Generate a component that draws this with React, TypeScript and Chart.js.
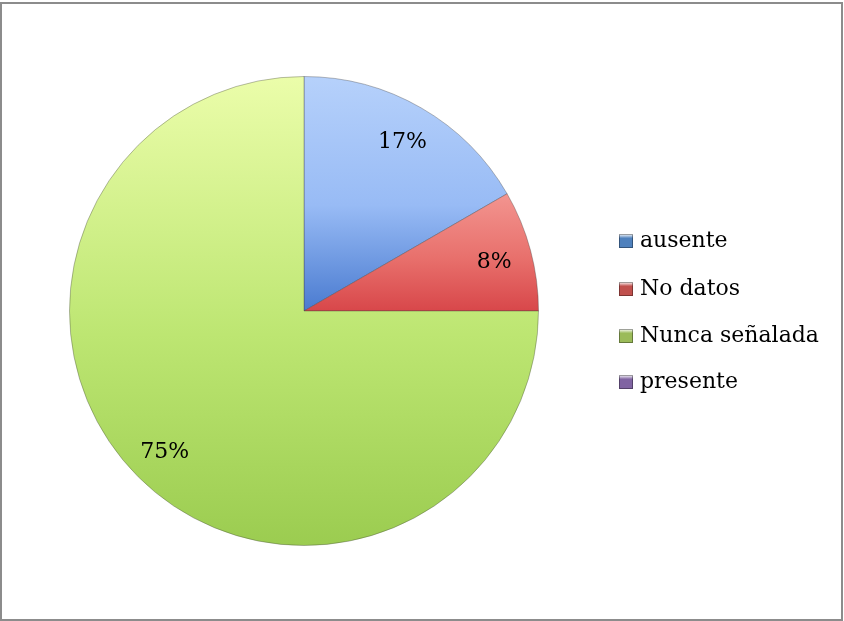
import React, { useEffect, useRef } from "react";
import { Chart, registerables } from "chart.js";

Chart.register(...registerables);

const categories = ["ausente", "No datos", "Nunca señalada", "presente"];
const values = [2, 1, 9, 0];
const percentLabels = ["17%", "8%", "75%", ""];
const legendColors = ["#4f81bd", "#c0504d", "#9bbb59", "#8064a2"];
const sliceStops: string[][] = [
  ["#b6d1fb", "#98bbf5", "#4a7bd0"],
  ["#f39590", "#e8706c", "#d8474a"],
  ["#ebfdaa", "#bde672", "#9bcc50"],
  ["#b9a6d6", "#9a82c0", "#7a5fa0"],
];

const FONT = '"DejaVu Serif", "Liberation Serif", serif';

function App() {
  const ref = useRef<HTMLCanvasElement | null>(null);

  useEffect(() => {
    if (!ref.current) return;

    const borderPlugin = {
      id: "frame",
      beforeDraw(chart: any) {
        const c = chart.ctx;
        c.save();
        c.fillStyle = "#ffffff";
        c.fillRect(0, 0, chart.width, chart.height);
        c.strokeStyle = "#8c8c8c";
        c.lineWidth = 2;
        c.strokeRect(1, 3, 841, 617);
        c.restore();
      },
    };

    const labelPlugin = {
      id: "labelsAndLegend",
      afterDraw(chart: any) {
        const c = chart.ctx;
        const meta = chart.getDatasetMeta(0);
        c.save();
        c.font = `22px ${FONT}`;
        c.fillStyle = "#000000";
        c.textAlign = "center";
        c.textBaseline = "middle";
        meta.data.forEach((arc: any, i: number) => {
          if (!percentLabels[i]) return;
          const p = arc.getProps(["x", "y", "startAngle", "endAngle", "outerRadius"], true);
          const mid = (p.startAngle + p.endAngle) / 2;
          const r = p.outerRadius * 0.84;
          c.fillText(percentLabels[i], p.x + Math.cos(mid) * r, p.y + Math.sin(mid) * r + 2);
        });
        // legend
        const lx = 619;
        const rows = [241, 289, 336, 382];
        c.textAlign = "left";
        categories.forEach((cat, i) => {
          const y = rows[i];
          const g = c.createLinearGradient(0, y - 7, 0, y + 7);
          g.addColorStop(0, "#ffffff");
          g.addColorStop(0.3, legendColors[i]);
          g.addColorStop(1, legendColors[i]);
          c.fillStyle = g;
          c.fillRect(lx, y - 7, 14, 14);
          c.strokeStyle = "rgba(0,0,0,0.35)";
          c.lineWidth = 1;
          c.strokeRect(lx + 0.5, y - 6.5, 13, 13);
          c.fillStyle = "#000000";
          c.fillText(cat, 640, y);
        });
        c.restore();
      },
    };

    const chart = new Chart(ref.current, {
      type: "pie",
      data: {
        labels: categories,
        datasets: [
          {
            data: values,
            backgroundColor: (ctx: any) => {
              const ch = ctx.chart;
              const area = ch.chartArea;
              const i = ctx.dataIndex;
              const stops = sliceStops[i];
              if (!area) return stops[1];
              const cy = (area.top + area.bottom) / 2;
              const r = (area.bottom - area.top) / 2;
              let y0 = area.top;
              let y1 = area.bottom;
              if (i === 0) { y0 = area.top; y1 = cy; }
              if (i === 1) { y0 = cy - r * 0.5; y1 = cy; }
              const g = ch.ctx.createLinearGradient(0, y0, 0, y1);
              g.addColorStop(0, stops[0]);
              g.addColorStop(0.55, stops[1]);
              g.addColorStop(1, stops[2]);
              return g;
            },
            borderColor: "rgba(60,60,60,0.35)",
            borderWidth: 1,
          },
        ],
      },
      options: {
        animation: false,
        responsive: false,
        maintainAspectRatio: false,
        layout: { padding: { left: 69, right: 305, top: 76, bottom: 75 } },
        plugins: {
          legend: { display: false },
          tooltip: { enabled: false },
        },
      },
      plugins: [borderPlugin, labelPlugin],
    });

    return () => chart.destroy();
  }, []);

  return (
    <div style={{ position: "absolute", left: 0, top: 0, width: 844, height: 621 }}>
      <canvas ref={ref} width={844} height={621} style={{ width: 844, height: 621, display: "block" }} />
    </div>
  );
}

export default App;
